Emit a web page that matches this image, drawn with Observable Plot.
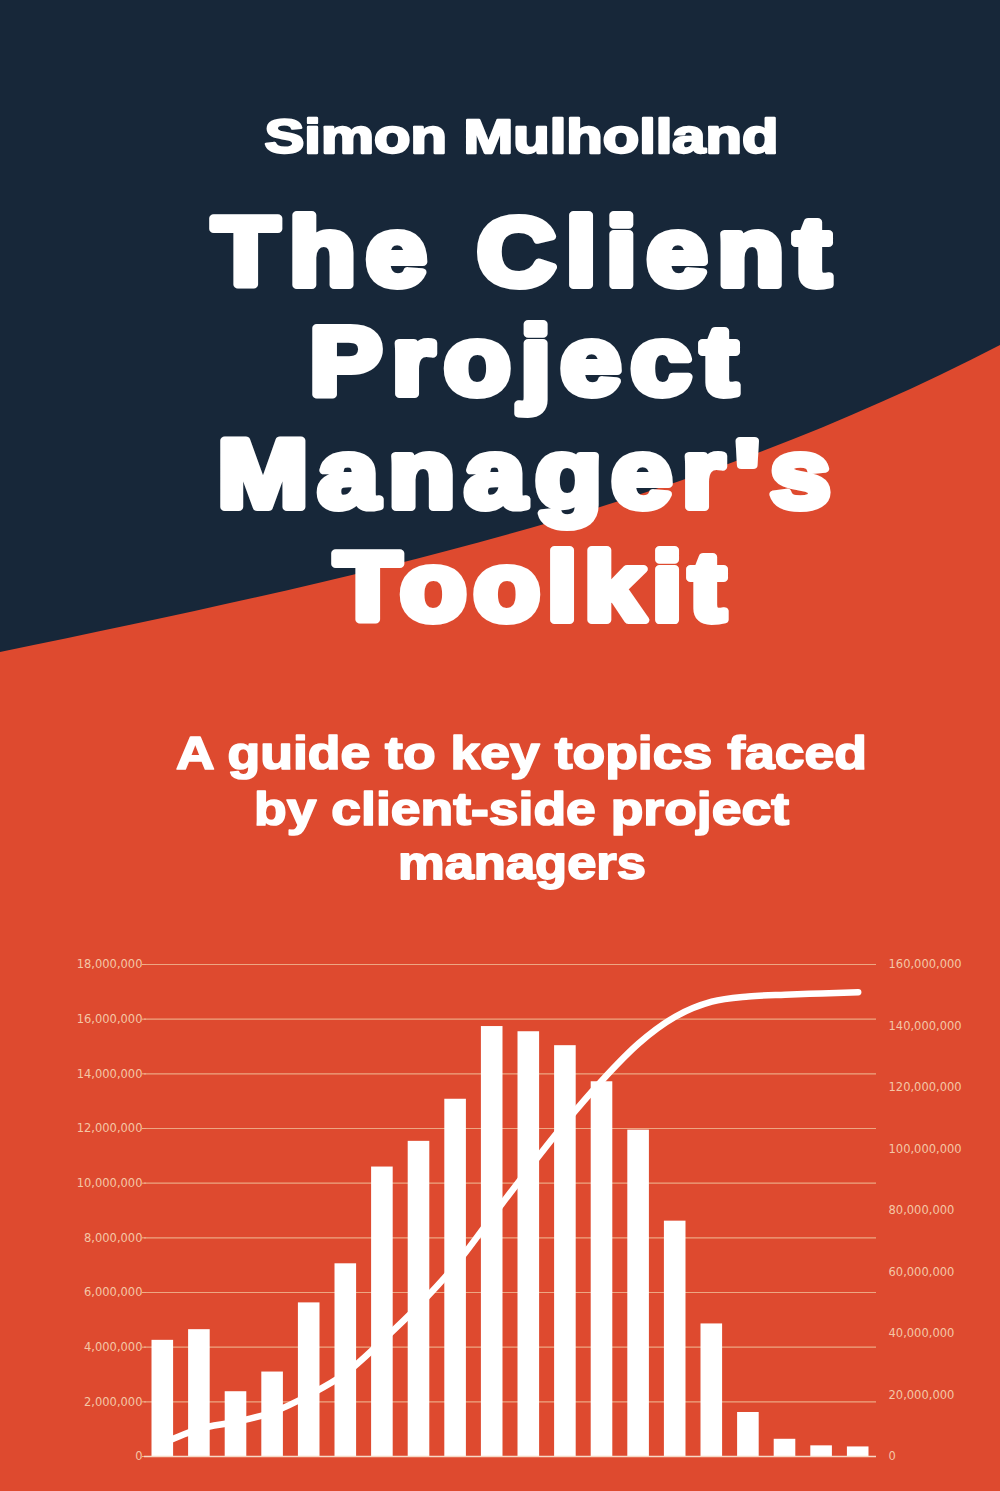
<!DOCTYPE html>
<html>
<head>
<meta charset="utf-8">
<script src="https://cdn.jsdelivr.net/npm/d3@7"></script>
<script src="https://cdn.jsdelivr.net/npm/@observablehq/plot@0.6"></script>
<style>
  html, body { margin: 0; padding: 0; background: #de4a2f; }
  #page { position: relative; width: 1000px; height: 1491px; overflow: hidden; background: #de4a2f; }
  #bg { position: absolute; left: 0; top: 0; }
  .chart { position: absolute; left: 0; top: 940px; }
  .cover-text { font-family: 'Liberation Sans', Arial, sans-serif; font-weight: bold; fill: #ffffff; stroke: #ffffff; stroke-linejoin: round; paint-order: stroke; }
</style>
</head>
<body>
<div id="page">
  <svg id="bg" width="1000" height="1491" viewBox="0 0 1000 1491">
    <rect x="0" y="0" width="1000" height="1491" fill="#de4a2f"></rect>
    <path d="M0,0 L1000,0 L1000,345 C700,500 400,570 0,652 Z" fill="#172739"></path>
    <g id="texts"></g>
  </svg>
  <div id="c1" class="chart"></div>
  <div id="c2" class="chart"></div>
</div>
<script>
// Cover texts: [text, centreX, baseline, capHeight, targetWidth, strokeWidth, glyph scale (null = fit by scaling only)]
const coverLines = [
  ["Simon Mulholland", 521.5, 155, 37, 517, 3, null],
  ["The Client", 521.5, 290, 78, 627, 9, 1.13],
  ["Project", 523.5, 399, 78, 437, 9, 1.13],
  ["Manager's", 524, 512, 78, 622, 9, 1.13],
  ["Toolkit", 530, 625, 78, 400, 9, 1.13],
  ["A guide to key topics faced", 521.5, 770, 35, 693, 2, null],
  ["by client-side project", 521.5, 826, 35, 537, 2, null],
  ["managers", 522, 880, 35, 250, 2, null]
];

// Data
const periods = [1,2,3,4,5,6,7,8,9,10,11,12,13,14,15,16,17,18,19,20];
const barValues = [4250000, 4640000, 2370000, 3090000, 5620000, 7050000, 10590000, 11530000, 13070000, 15730000,
                   15540000, 15030000, 13710000, 11940000, 8610000, 4850000, 1610000, 630000, 390000, 350000];
const cumulativeValues = [4300000, 9000000, 11300000, 14400000, 20000000, 27100000, 37700000, 49200000, 62300000, 78000000,
                          93600000, 108600000, 122300000, 134300000, 143000000, 147900000, 149600000, 150200000, 150600000, 151000000];
const leftTicks = [0, 2000000, 4000000, 6000000, 8000000, 10000000, 12000000, 14000000, 16000000, 18000000];
const rightTicks = [0, 20000000, 40000000, 60000000, 80000000, 100000000, 120000000, 140000000, 160000000];

// --- cover text ---
const g = document.getElementById("texts");
const NS = "http://www.w3.org/2000/svg";
for (const [txt, cx, base, cap, tw, sw, gs] of coverLines) {
  const fs = (cap - sw) / 0.716;
  const t = document.createElementNS(NS, "text");
  t.setAttribute("class", "cover-text");
  t.setAttribute("text-anchor", "start");
  t.setAttribute("y", base - sw / 2);
  t.setAttribute("font-size", fs.toFixed(2));
  t.setAttribute("stroke-width", sw);
  t.textContent = txt;
  g.appendChild(t);
  const w0 = t.getComputedTextLength();
  const inner = tw - sw;
  let s, wUnscaled;
  if (gs) {
    s = gs;
    const ls = (inner / s - w0) / (txt.length - 1);
    t.setAttribute("letter-spacing", ls.toFixed(2));
    wUnscaled = inner / s;
  } else {
    s = inner / w0;
    wUnscaled = w0;
  }
  t.setAttribute("x", (cx - wUnscaled / 2).toFixed(2));
  t.setAttribute("stroke-width", (sw / s).toFixed(2));
  t.setAttribute("transform", `translate(${cx},0) scale(${s.toFixed(4)},1) translate(${-cx},0)`);
}

// --- chart ---
const bars = periods.map((p, i) => ({period: p, value: barValues[i]}));
const cumul = periods.map((p, i) => ({period: p, value: cumulativeValues[i]}));

const W = 1000, H = 540;
const margins = {marginTop: 24, marginBottom: 24, marginLeft: 144, marginRight: 124};
const fmt = d3.format(",");
const labelColor = "#f4c6a6";
const gridColor = "#eeb08c";
const font = "'DejaVu Sans', Verdana, sans-serif";

const xScale = {type: "band", domain: periods, paddingInner: 0.41, paddingOuter: 0.205, round: false, axis: null};

const chart1 = Plot.plot({
  width: W, height: H, ...margins,
  style: {background: "transparent", fontFamily: font, fontSize: "11.5px", color: labelColor, overflow: "visible"},
  x: xScale,
  y: {domain: [0, 18000000], axis: null},
  marks: [
    Plot.ruleY(leftTicks.filter(d => d > 0), {stroke: gridColor, strokeWidth: 1.2, strokeOpacity: 0.9}),
    Plot.axisY({ticks: leftTicks, tickFormat: fmt, tickSize: 4, tickPadding: 0, dx: 2, stroke: gridColor, fill: labelColor, label: null}),
    Plot.barY(bars, {x: "period", y: "value", fill: "#ffffff"}),
    Plot.ruleY([0], {stroke: "#f7d9c6", strokeWidth: 1.5})
  ]
});
document.getElementById("c1").appendChild(chart1);

const chart2 = Plot.plot({
  width: W, height: H, ...margins,
  style: {background: "transparent", fontFamily: font, fontSize: "11.5px", color: labelColor, overflow: "visible"},
  x: xScale,
  y: {domain: [0, 160000000], axis: null},
  marks: [
    Plot.axisY({anchor: "right", ticks: rightTicks, tickFormat: fmt, tickSize: 0, tickPadding: 12, fill: labelColor, label: null}),
    Plot.line(cumul, {x: "period", y: "value", stroke: "#ffffff", strokeWidth: 6.5, curve: "monotone-x", strokeLinecap: "round", strokeLinejoin: "round"})
  ]
});
document.getElementById("c2").appendChild(chart2);
</script>
</body>
</html>
